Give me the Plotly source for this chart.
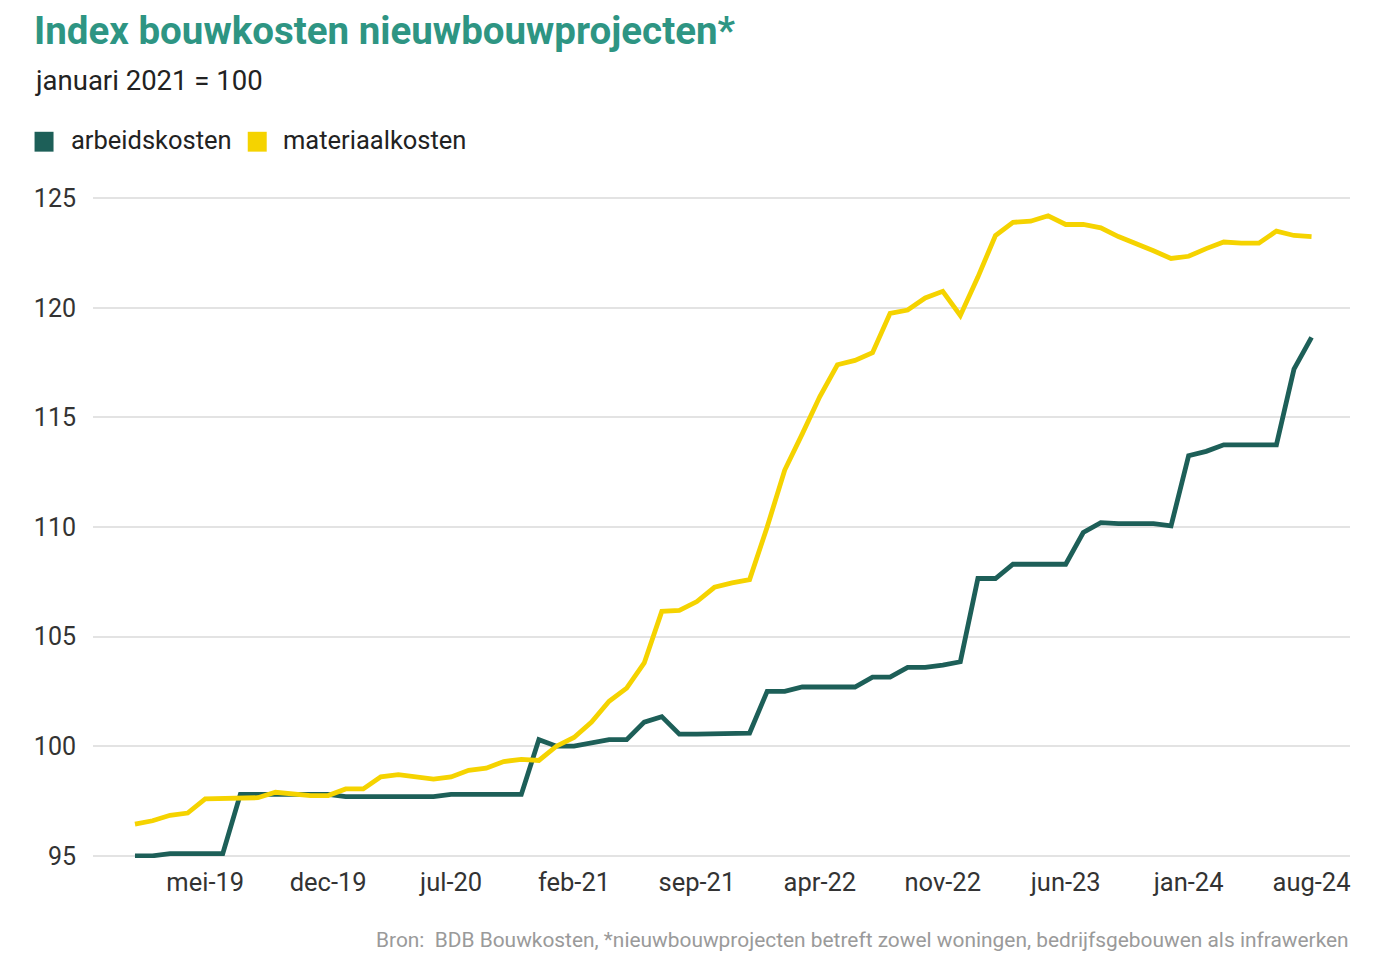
import plotly.graph_objects as go

maanden = ['jan', 'feb', 'mrt', 'apr', 'mei', 'jun', 'jul', 'aug', 'sep', 'okt', 'nov', 'dec']
periode = [f'{m}-{j:02d}' for j in range(19, 25) for m in maanden][:68]  # jan-19 t/m aug-24

arbeidskosten = [
    95.0, 95.0, 95.1, 95.1, 95.1, 95.1, 97.8, 97.8, 97.8, 97.8, 97.8, 97.8,
    97.7, 97.7, 97.7, 97.7, 97.7, 97.7, 97.8, 97.8, 97.8, 97.8, 97.8, 100.3,
    100.0, 100.0, 100.15, 100.3, 100.3, 101.1, 101.35, 100.55, 100.55, 100.55, 100.55, 100.6,
    102.5, 102.5, 102.7, 102.7, 102.7, 102.7, 103.15, 103.15, 103.6, 103.6, 103.7, 103.85,
    107.65, 107.65, 108.3, 108.3, 108.3, 108.3, 109.75, 110.2, 110.15, 110.15, 110.15, 110.05,
    113.25, 113.45, 113.75, 113.75, 113.75, 113.75, 117.2, 118.65,
]

materiaalkosten = [
    96.45, 96.6, 96.85, 96.95, 97.6, 97.6, 97.6, 97.65, 97.9, 97.8, 97.75, 97.75,
    98.05, 98.05, 98.6, 98.7, 98.6, 98.5, 98.6, 98.9, 99.0, 99.3, 99.4, 99.35,
    100.0, 100.4, 101.1, 102.05, 102.65, 103.8, 106.15, 106.2, 106.6, 107.25, 107.45, 107.6,
    110.0, 112.6, 114.25, 115.95, 117.4, 117.6, 117.95, 119.75, 119.9, 120.45, 120.75, 119.65,
    121.4, 123.3, 123.9, 123.95, 124.2, 123.8, 123.8, 123.65, 123.25, 122.95, 122.6, 122.25,
    122.35, 122.7, 123.0, 122.95, 122.95, 123.5, 123.3, 123.25,
]

x_ticks = ['mei-19', 'dec-19', 'jul-20', 'feb-21', 'sep-21', 'apr-22', 'nov-22', 'jun-23', 'jan-24', 'aug-24']
y_ticks = [95, 100, 105, 110, 115, 120, 125]

groen = '#1d5f58'
geel = '#f5d300'

fig = go.Figure()

for naam, waarden, kleur in [('arbeidskosten', arbeidskosten, groen),
                             ('materiaalkosten', materiaalkosten, geel)]:
    fig.add_trace(go.Scatter(x=periode, y=waarden, mode='lines', name=naam,
                             line=dict(color=kleur, width=4.8)))

# de pagina krijgt 8px body-marge, daarom marges 8px kleiner links/boven
fig.update_layout(
    width=1389, height=960,
    margin=dict(l=85, r=47, t=188, b=110),
    plot_bgcolor='white',
    paper_bgcolor='white',
    font=dict(family='Roboto', color='#333333', size=25),
    showlegend=False,
    hovermode='x unified',
)

fig.update_xaxes(type='category', range=[-2.39, 69.19], tickvals=x_ticks,
                 showgrid=False, showline=False, ticks='', zeroline=False,
                 ticklabelstandoff=6, tickfont=dict(size=25.5, color='#333333'))
fig.update_yaxes(range=[94.9, 125.1], tickvals=y_ticks, showgrid=True,
                 gridcolor='#e3e3e3', gridwidth=2, zeroline=False, showline=False,
                 ticks='', ticklabelstandoff=16,
                 tickfont=dict(size=25, color='#333333'))

# legenda als blokjes + tekst
for naam, kleur, x0, xt in [('arbeidskosten', groen, -0.0465, -0.0191),
                            ('materiaalkosten', geel, 0.1231, 0.1496)]:
    fig.add_shape(type='rect', xref='paper', yref='paper', x0=x0, x1=x0 + 0.0151,
                  y0=1.067, y1=1.097, fillcolor=kleur, line_width=0)
    fig.add_annotation(text=naam, xref='paper', yref='paper', x=xt, y=1.084,
                       xanchor='left', yanchor='middle', showarrow=False,
                       font=dict(size=25.5, color='#222222'))

fig.add_annotation(text='<b>Index bouwkosten nieuwbouwprojecten*</b>', xref='paper', yref='paper',
                   x=-0.0475, y=1.2495, xanchor='left', yanchor='middle', showarrow=False,
                   borderpad=0, font=dict(size=38.5, color='#2e9583', family='Roboto'))
fig.add_annotation(text='januari 2021 = 100', xref='paper', yref='paper',
                   x=-0.0475, y=1.174, xanchor='left', yanchor='middle', showarrow=False,
                   font=dict(size=27.5, color='#222222'))
fig.add_annotation(text='Bron:  BDB Bouwkosten, *nieuwbouwprojecten betreft zowel woningen, '
                        'bedrijfsgebouwen als infrawerken',
                   xref='paper', yref='paper', x=1.001, y=-0.1239, xanchor='right', yanchor='middle',
                   showarrow=False, font=dict(size=20.9, color='#9a9a9a'))

fig.write_html('out.html')
